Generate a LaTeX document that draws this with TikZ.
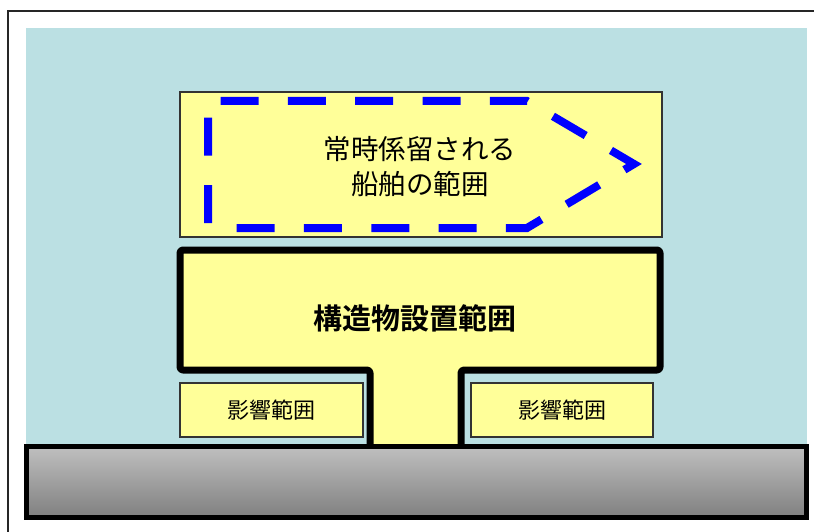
\documentclass[tikz,border=0pt]{standalone}
\usepackage{fontspec}
\newfontfamily\cjk{Noto Sans CJK JP}
\newfontfamily\cjkbold{Noto Sans CJK JP Bold}
\definecolor{sea}{HTML}{BBE0E3}
\definecolor{pale}{HTML}{FFFF99}
\definecolor{shipblue}{HTML}{0000FF}
\tikzset{
  thinbox/.style={draw=black!80, line width=1.3pt, fill=pale, inner sep=0pt},
  shipdash/.style={draw=shipblue, line width=8pt, line cap=butt, line join=miter,
    dash pattern=on 38pt off 29.3pt, dash phase=62.3pt},
}
\begin{document}
\begin{tikzpicture}[x=1pt,y=-1pt]
\useasboundingbox (0,0) rectangle (814,532);
% outer frame
\draw[line width=1.5pt, black!85] (8,532) -- (8,11) -- (814,11);
% sea
\fill[sea] (26,28) rectangle (807,445);
% ship area box
\node[thinbox, minimum width=482pt, minimum height=145pt] (ship) at (421,164.5) {};
\draw[shipdash] (208,228) -- (208,101) -- (527,101) -- (634,164) -- (527,228) -- cycle;
\node[font=\cjk\fontsize{27.5}{35}\selectfont, align=center] (shiptext) at (420,167) {常時係留される\\船舶の範囲};
% structure T
\draw[line width=7pt, fill=pale, rounded corners=3pt, line join=round]
  (370,447) -- (370,370) -- (180,370) -- (180,250) -- (660,250) -- (660,370) -- (461,370) -- (461,447);
\node[font=\cjkbold\fontsize{29}{34}\selectfont] (struct) at (415,318) {構造物設置範囲};
% influence boxes
\node[thinbox, minimum width=183pt, minimum height=54pt] (infl) at (271.5,410) {};
\node[thinbox, minimum width=182pt, minimum height=54pt] (infr) at (562,410) {};
\node[font=\cjk\fontsize{22}{26}\selectfont] (infltext) at (infl.center) {影響範囲};
\node[font=\cjk\fontsize{22}{26}\selectfont] (infrtext) at (infr.center) {影響範囲};
% ground
\shade[top color=black!25, bottom color=black!50] (26.5,446.5) rectangle (806.5,517.5);
\draw[line width=5pt] (26.5,446.5) rectangle (806.5,517.5);
\end{tikzpicture}
\end{document}
